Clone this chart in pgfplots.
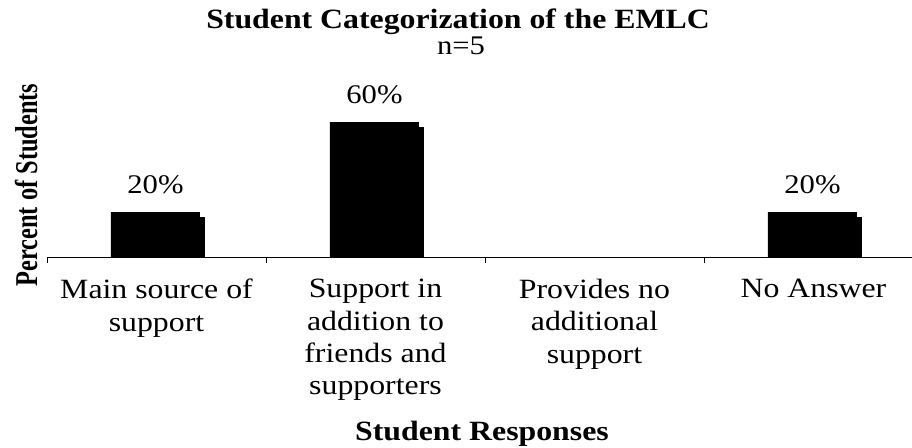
\documentclass[border=0pt]{standalone}
\usepackage{pgfplots}
\pgfplotsset{compat=1.18}
\usepackage{fontspec}
\setmainfont{Liberation Serif}[FakeStretch=1.14]
\newfontfamily\plainserif{Liberation Serif}
\usetikzlibrary{shadows}
\begin{document}
\begin{tikzpicture}
\useasboundingbox (0,0) rectangle (912bp,448bp);
\begin{axis}[
  at={(47bp,191bp)}, anchor=south west,
  scale only axis,
  width=865bp, height=157.5bp,
  xmin=0, xmax=3.95, ymin=0, ymax=70,
  axis x line=bottom, axis y line=none,
  x axis line style={-, black, line width=0.8bp},
  xtick={0.5,1.5,2.5,3.5},
  xticklabels={Main source of\\support, Support in\\addition to\\friends and\\supporters, Provides no\\additional\\support, No Answer},
  minor xtick={0,1,2,3},
  tick align=outside,
  major tick length=0pt, minor tick length=6bp,
  minor x tick style={black, line width=0.8bp},
  xticklabel style={font=\fontsize{28}{32.5}\selectfont, align=center, anchor=north, inner sep=0pt, yshift=-22bp},
  ybar, bar width=89bp, bar shift=-1bp,
  /pgf/number format/assume math mode=true,
  nodes near coords={\pgfmathprintnumber{\pgfplotspointmeta}\%},
  nodes near coords style={font=\fontsize{27}{30}\selectfont, anchor=base, inner sep=0pt, yshift=19bp},
]
\addplot[fill=black, draw=none, drop shadow={shadow xshift=5bp, shadow yshift=-5bp, fill=black, opacity=1}]
  coordinates {(0.5,20) (1.5,60) (3.5,20)};
\end{axis}
\node[font=\bfseries\fontsize{28}{30}\selectfont, anchor=base] at (458bp,419bp) {Student Categorization of the EMLC};
\node[font=\fontsize{27}{30}\selectfont, anchor=base] at (461bp,393bp) {n=5};
\node[font=\bfseries\fontsize{28}{30}\selectfont, anchor=base] at (482bp,8bp) {Student Responses};
\node[rotate=90, anchor=base] at (37bp,263bp) {\scalebox{1}[1.3]{\plainserif\bfseries\fontsize{24.5}{28}\selectfont Percent of Students}};
\end{tikzpicture}
\end{document}
